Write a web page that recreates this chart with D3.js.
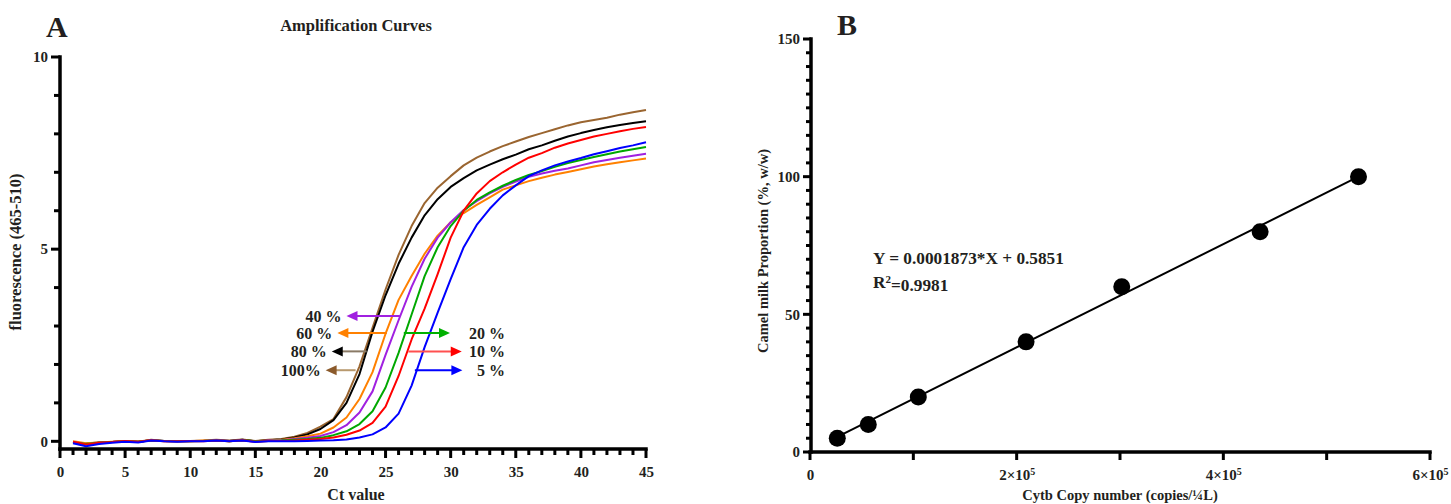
<!DOCTYPE html>
<html>
<head>
<meta charset="utf-8">
<script src="https://cdn.jsdelivr.net/npm/d3@7"></script>
<style>
body { margin: 0; background: #fff; }
svg text { font-family: "Times New Roman", "Liberation Serif", serif; font-weight: bold; fill: #231f20; }
svg .tick text { font-size: 15px; }
</style>
</head>
<body>
<script>
// ---- panel A : amplification curves ----
var cycles = [1,2,3,4,5,6,7,8,9,10,11,12,13,14,15,16,17,18,19,20,21,22,23,24,25,26,27,28,29,30,31,32,33,34,35,36,37,38,39,40,41,42,43,44,45];

var fl_100 = [-0.03,-0.07,-0.04,-0.02,0.00,-0.01,0.04,0.01,0.01,0.01,0.02,0.04,0.02,0.05,0.01,0.04,0.06,0.12,0.22,0.38,0.58,1.15,1.95,2.95,3.95,4.85,5.60,6.20,6.60,6.90,7.18,7.38,7.54,7.68,7.80,7.92,8.02,8.12,8.22,8.30,8.36,8.42,8.50,8.56,8.62];
var fl_80  = [-0.02,-0.06,-0.03,-0.02,0.00,-0.01,0.03,0.01,0.00,0.01,0.01,0.03,0.01,0.04,0.00,0.03,0.05,0.10,0.18,0.32,0.55,1.00,1.75,2.85,3.80,4.62,5.30,5.88,6.30,6.62,6.85,7.05,7.20,7.34,7.46,7.60,7.70,7.82,7.93,8.02,8.10,8.17,8.23,8.28,8.33];
var fl_60  = [0.00,-0.05,-0.03,-0.01,0.01,-0.01,0.03,0.00,0.01,0.00,0.02,0.03,0.00,0.03,0.00,0.02,0.04,0.08,0.13,0.20,0.36,0.62,1.10,1.80,2.80,3.68,4.30,4.88,5.35,5.70,5.94,6.15,6.35,6.55,6.66,6.77,6.86,6.94,7.01,7.08,7.15,7.21,7.26,7.31,7.36];
var fl_40  = [-0.02,-0.08,-0.04,-0.02,0.00,-0.02,0.03,0.01,0.00,0.01,0.01,0.03,0.01,0.03,-0.01,0.02,0.03,0.06,0.09,0.14,0.24,0.42,0.75,1.30,2.25,3.15,4.02,4.75,5.30,5.70,6.02,6.25,6.45,6.62,6.76,6.88,6.97,7.04,7.10,7.18,7.26,7.32,7.38,7.43,7.48];
var fl_20  = [-0.03,-0.07,-0.04,-0.02,0.00,-0.01,0.02,0.01,0.00,0.00,0.01,0.02,0.00,0.03,0.00,0.01,0.02,0.04,0.06,0.09,0.16,0.26,0.45,0.78,1.40,2.30,3.30,4.30,5.05,5.60,6.00,6.28,6.48,6.65,6.80,6.93,7.03,7.14,7.24,7.32,7.40,7.47,7.54,7.60,7.66];
var fl_10  = [-0.01,-0.08,-0.04,-0.02,0.01,-0.01,0.03,0.00,0.00,0.01,0.00,0.02,0.00,0.03,-0.01,0.01,0.01,0.02,0.04,0.06,0.10,0.17,0.28,0.48,0.90,1.70,2.65,3.45,4.35,5.30,6.00,6.45,6.77,7.00,7.20,7.38,7.50,7.64,7.75,7.84,7.93,8.00,8.07,8.13,8.18];
var fl_5   = [-0.05,-0.13,-0.07,-0.04,-0.01,-0.03,0.02,0.00,-0.01,0.00,0.00,0.02,0.00,0.02,-0.02,0.00,0.00,0.00,0.01,0.02,0.03,0.05,0.10,0.18,0.36,0.72,1.45,2.45,3.35,4.22,5.05,5.63,6.05,6.40,6.66,6.90,7.05,7.18,7.28,7.37,7.47,7.55,7.63,7.70,7.78];

var series_names  = ["100%", "80%", "60%", "40%", "20%", "10%", "5%"];
var series_colors = ["#9a6530", "#000000", "#ff8000", "#a020e0", "#00a800", "#ff0000", "#0000ff"];
var series_values = [fl_100, fl_80, fl_60, fl_40, fl_20, fl_10, fl_5];

// arrow labels (value = fluorescence level of arrow, from/to = Ct)
var ann_labels = ["40 %", "60 %", "80 %", "100%", "20 %", "10 %", "5 %"];
var ann_value  = [3.26, 2.82, 2.34, 1.85, 2.82, 2.34, 1.85];
var ann_from   = [26.1, 25.1, 23.55, 22.7, 26.4, 26.75, 27.25];
var ann_to     = [22.0, 21.3, 20.87, 20.4, 29.95, 30.85, 30.9];
var ann_line   = ["#a020e0", "#ff8000", "#8a7a66", "#b8996e", "#00b000", "#ff5050", "#0000ff"];
var ann_head   = ["#a020e0", "#ff8000", "#000000", "#8b5a2b", "#00b000", "#ff0000", "#0000ff"];

// ---- panel B : standard curve ----
var copies     = [26400, 56400, 104800, 209100, 301700, 435600, 530800];
var proportion = [5, 10, 20, 40, 60, 80, 100];
var slope = 0.0001873, intercept = 0.5851;

var width = 1451, height = 504;
var svg = d3.select("body").append("svg")
    .attr("width", width)
    .attr("height", height);

// d3 axis only for the labels; axis lines and ticks drawn as plain lines below
function labelAxis(g) {
  g.attr("font-size", null).attr("font-family", null);
  g.select(".domain").remove();
  g.selectAll(".tick line").remove();
  g.selectAll(".tick text").attr("fill", "#231f20");
}

// axis line + ticks from a scale; orient "bottom" or "left"
function drawAxisLines(scale, orient, pos, values, len, from, to) {
  let g = svg.append("g").attr("class", "axislines");
  g.selectAll("line.t")
    .data(values)
    .enter().append("line")
      .attr("class", "t")
      .attr("x1", function(d) { return orient == "bottom" ? scale(d) : pos; })
      .attr("x2", function(d) { return orient == "bottom" ? scale(d) : pos - len; })
      .attr("y1", function(d) { return orient == "bottom" ? pos : scale(d); })
      .attr("y2", function(d) { return orient == "bottom" ? pos + len : scale(d); })
      .attr("stroke", "#000")
      .attr("stroke-width", 3);
  if (from !== undefined) {
    g.append("line")
      .attr("x1", orient == "bottom" ? scale(from) - 1.75 : pos)
      .attr("x2", orient == "bottom" ? scale(to) + 1.75 : pos)
      .attr("y1", orient == "bottom" ? pos : scale(from) + 1.75)
      .attr("y2", orient == "bottom" ? pos : scale(to) - 1.75)
      .attr("stroke", "#000")
      .attr("stroke-width", 3.5);
  }
}

// ================= A =================
var xA = d3.scaleLinear().domain([0, 45]).range([60, 646]);
var yA = d3.scaleLinear().domain([-0.2, 10]).range([449, 57]);

svg.append("text").attr("x", 46).attr("y", 37).style("font-size", "30px").text("A");
svg.append("text").attr("x", 356).attr("y", 31).attr("text-anchor", "middle")
   .style("font-size", "16.5px").text("Amplification Curves");

var line = d3.line()
    .x(function(d, i) { return xA(cycles[i]); })
    .y(function(d) { return yA(d); });

svg.append("g").attr("class", "curves")
  .selectAll("path")
  .data(series_values)
  .enter().append("path")
    .attr("d", line)
    .attr("fill", "none")
    .attr("stroke", function(d, i) { return series_colors[i]; })
    .attr("stroke-width", 2)
    .attr("stroke-linejoin", "round");

// arrows + labels
var ann = svg.append("g").attr("class", "annot");
for (let i = 0; i < ann_labels.length; i++) {
  let x1 = xA(ann_from[i]), x2 = xA(ann_to[i]), y = yA(ann_value[i]);
  let dir = x2 > x1 ? 1 : -1;
  ann.append("line")
    .attr("x1", x1).attr("x2", x2 - dir * 8)
    .attr("y1", y).attr("y2", y)
    .attr("stroke", ann_line[i]).attr("stroke-width", 2);
  ann.append("path")
    .attr("d", "M" + x2 + "," + y + "L" + (x2 - dir * 11) + "," + (y - 5) + "L" + (x2 - dir * 11) + "," + (y + 5) + "Z")
    .attr("fill", ann_head[i]);
  ann.append("text")
    .attr("x", dir < 0 ? x2 - 5 : 505)
    .attr("y", y)
    .attr("dy", "0.35em")
    .attr("text-anchor", "end")
    .style("font-size", "16px")
    .text(ann_labels[i]);
}

// axes
var xA_major = d3.range(0, 46, 5);
var xA_minor = d3.range(1, 45).filter(function(v) { return v % 5; });
svg.append("g").attr("transform", "translate(0,449)")
    .call(d3.axisBottom(xA).tickValues(xA_major).tickSize(9).tickPadding(8))
    .call(labelAxis);
drawAxisLines(xA, "bottom", 449, xA_minor, 6);
drawAxisLines(xA, "bottom", 449, xA_major, 9, 0, 45);

svg.append("g").attr("transform", "translate(60,0)")
    .call(d3.axisLeft(yA).tickValues([0, 5, 10]).tickSize(9).tickPadding(3))
    .call(labelAxis);
drawAxisLines(yA, "left", 60, [1, 2, 3, 4, 6, 7, 8, 9], 6);
drawAxisLines(yA, "left", 60, [0, 5, 10], 9, -0.2, 10);

svg.append("text").attr("x", 356).attr("y", 500).attr("text-anchor", "middle")
   .style("font-size", "16px").text("Ct value");
svg.append("text").attr("transform", "translate(21,252) rotate(-90)").attr("text-anchor", "middle")
   .style("font-size", "16.5px").text("fluorescence (465-510)");

// ================= B =================
var xB = d3.scaleLinear().domain([0, 600000]).range([810, 1430]);
var yB = d3.scaleLinear().domain([0, 150]).range([452, 39]);

svg.append("text").attr("x", 837).attr("y", 35).style("font-size", "30px").text("B");

var xExt = d3.extent(copies);
svg.append("line")
    .attr("x1", xB(xExt[0])).attr("y1", yB(slope * xExt[0] + intercept))
    .attr("x2", xB(xExt[1])).attr("y2", yB(slope * xExt[1] + intercept))
    .attr("stroke", "#000").attr("stroke-width", 2);

svg.append("g").selectAll("circle")
  .data(copies)
  .enter().append("circle")
    .attr("cx", function(d) { return xB(d); })
    .attr("cy", function(d, i) { return yB(proportion[i]); })
    .attr("r", 8.5)
    .attr("fill", "#000");

var yB_major = [0, 50, 100, 150];
var yB_minor = d3.range(5, 150, 5).filter(function(v) { return v % 50; });
svg.append("g").attr("transform", "translate(811,0)")
    .call(d3.axisLeft(yB).tickValues(yB_major).tickSize(8).tickPadding(3))
    .call(labelAxis);
drawAxisLines(yB, "left", 811, yB_minor, 5);
drawAxisLines(yB, "left", 811, yB_major, 8, 0, 150);

var xB_ticks = d3.range(0, 600001, 100000);
var axB_x = svg.append("g").attr("transform", "translate(0,452)")
    .call(d3.axisBottom(xB).tickValues(xB_ticks).tickSize(8).tickPadding(9))
    .call(labelAxis);
axB_x.selectAll(".tick text").each(function(d) {
  let t = d3.select(this).text(null);
  if (d === 0) { t.text("0"); return; }
  if (d % 200000) return;
  t.append("tspan").text((d / 100000) + "×10");
  t.append("tspan").attr("dy", "-0.5em").style("font-size", "10px").text("5");
});
drawAxisLines(xB, "bottom", 452, xB_ticks, 8, 0, 600000);

svg.append("text").attr("x", 1120).attr("y", 500).attr("text-anchor", "middle")
   .style("font-size", "14.5px").text("Cytb Copy number (copies/¼L)");
svg.append("text").attr("transform", "translate(768,251) rotate(-90)").attr("text-anchor", "middle")
   .style("font-size", "14.5px").text("Camel milk Proportion (%, w/w)");

svg.append("text").attr("x", 873).attr("y", 264).style("font-size", "17.3px")
   .text("Y = 0.0001873*X + 0.5851");
var r2 = svg.append("text").attr("x", 873).attr("y", 288).style("font-size", "17.3px");
r2.append("tspan").text("R");
r2.append("tspan").attr("dy", "-0.45em").style("font-size", "11px").text("2");
r2.append("tspan").attr("dy", "0.45em").text("=0.9981");
</script>
</body>
</html>
